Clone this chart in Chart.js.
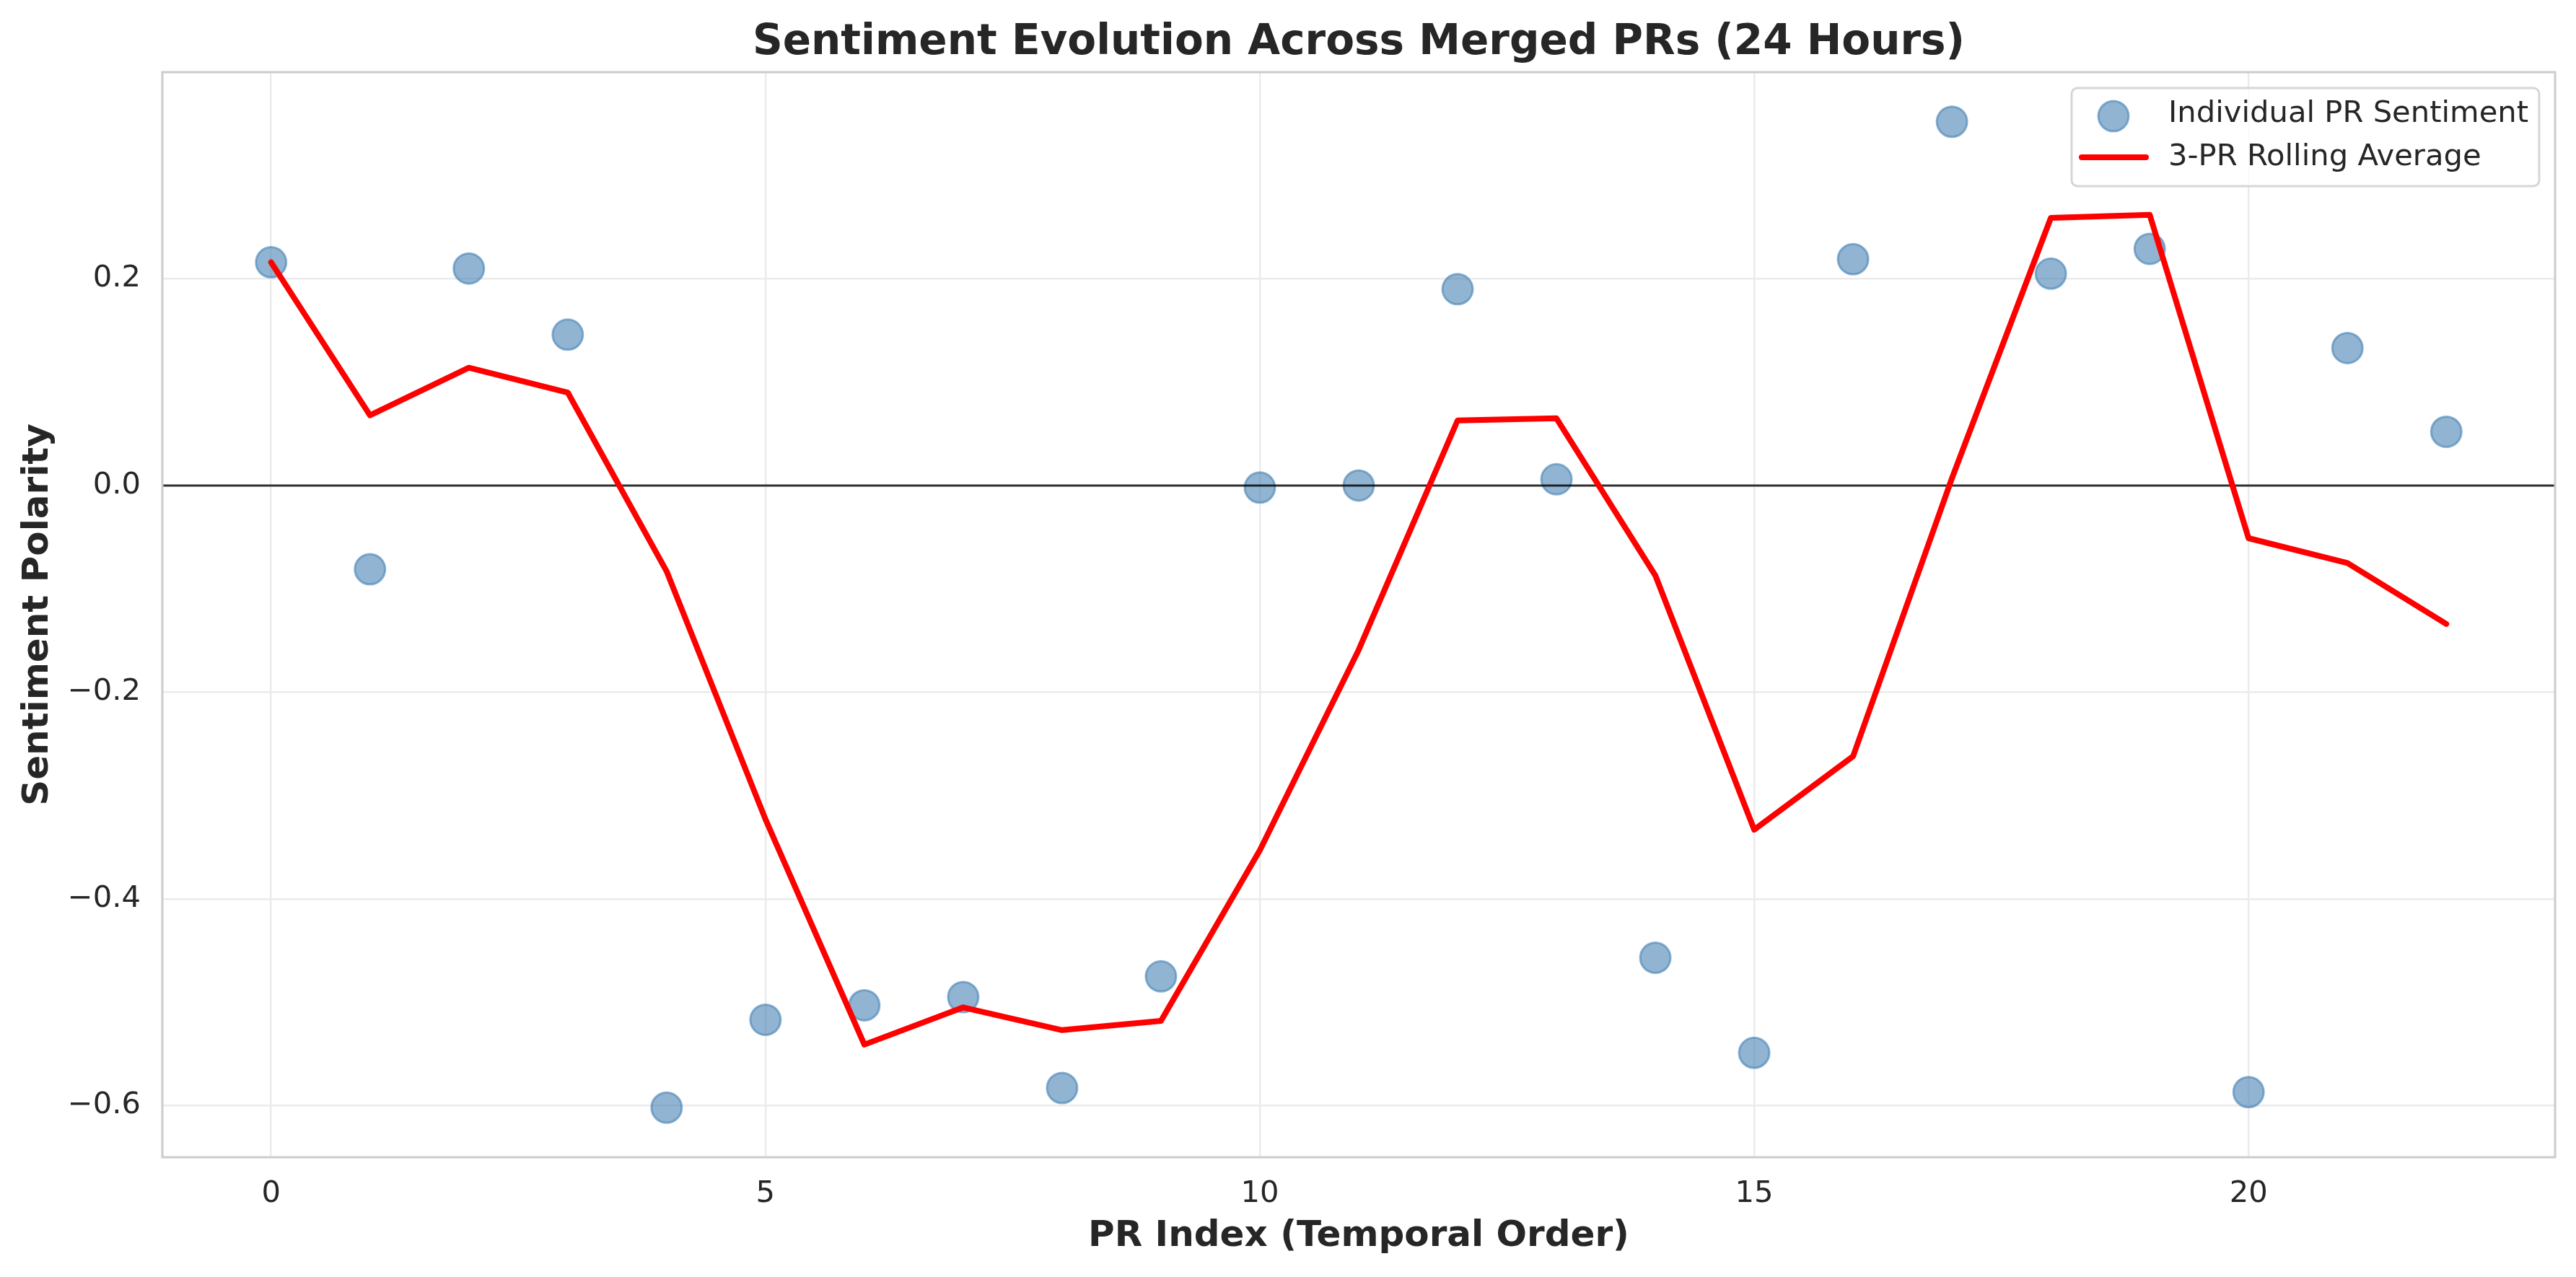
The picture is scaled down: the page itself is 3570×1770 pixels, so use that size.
<!DOCTYPE html>
<html>
<head>
<meta charset="utf-8">
<script src="https://cdn.jsdelivr.net/npm/chart.js@4.4.1/dist/chart.umd.min.js"></script>
<style>
  html, body { margin: 0; padding: 0; background: #fff; }
  canvas { display: block; }
</style>
</head>
<body>
<canvas id="sentimentChart" width="3570" height="1770"></canvas>
<script>
// PR index (temporal order)
const prIndex = [0, 1, 2, 3, 4, 5, 6, 7, 8, 9, 10, 11, 12, 13, 14, 15, 16, 17, 18, 19, 20, 21, 22]

// sentiment polarity of each merged PR
const sentiment = [
  0.216, -0.081, 0.210, 0.146, -0.602, -0.517, -0.503, -0.495, -0.583, -0.475,
  -0.002, 0.000, 0.190, 0.006, -0.457, -0.549, 0.219, 0.352, 0.205, 0.229,
  -0.587, 0.133, 0.052,
]

// 3-PR rolling average
const rolling = [
  0.216, 0.068, 0.114, 0.090, -0.083, -0.323, -0.541, -0.505, -0.527, -0.518,
  -0.353, -0.159, 0.063, 0.065, -0.087, -0.333, -0.262, 0.007, 0.259, 0.262,
  -0.051, -0.075, -0.134,
]

const xTicks = [0, 5, 10, 15, 20]
const yTicks = [-0.6, -0.4, -0.2, 0.0, 0.2]

const titleText = 'Sentiment Evolution Across Merged PRs (24 Hours)'
const seriesNames = ['Individual PR Sentiment', '3-PR Rolling Average']

const FONT = "'DejaVu Sans', 'Liberation Sans', sans-serif"
const TEXT = '#262626'
const POINT_FILL = 'rgba(70, 130, 180, 0.6)'

const fmt = (v) => v.toFixed(1).replace('-', '\u2212')

// title centred over the plot area
const titlePlugin = {
  id: 'plotTitle',
  afterDraw(chart) {
    const { ctx, chartArea } = chart
    ctx.save()
    ctx.font = `bold 58px ${FONT}`
    ctx.fillStyle = TEXT
    ctx.textAlign = 'center'
    ctx.textBaseline = 'alphabetic'
    ctx.fillText(titleText, (chartArea.left + chartArea.right) / 2, 75)
    ctx.restore()
  },
}

// zero line: above the dots, under the red line
const zeroLinePlugin = {
  id: 'zeroLine',
  afterDatasetDraw(chart, args) {
    if (args.index !== 0) return
    const { ctx, chartArea, scales } = chart
    const y = scales.y.getPixelForValue(0)
    ctx.save()
    ctx.strokeStyle = 'rgba(0, 0, 0, 0.8)'
    ctx.lineWidth = 3
    ctx.beginPath()
    ctx.moveTo(chartArea.left, y)
    ctx.lineTo(chartArea.right, y)
    ctx.stroke()
    ctx.restore()
  },
}

// frame + matplotlib-like legend box
const framePlugin = {
  id: 'frameLegend',
  afterDraw(chart) {
    const { ctx, chartArea } = chart
    const { left, right, top, bottom } = chartArea
    ctx.save()
    ctx.strokeStyle = '#cccccc'
    ctx.lineWidth = 3
    ctx.strokeRect(left, top, right - left, bottom - top)

    const bx = right - 670
    const by = top + 22
    const bw = 648
    const bh = 136
    ctx.beginPath()
    ctx.roundRect(bx, by, bw, bh, 8)
    ctx.fillStyle = 'rgba(255, 255, 255, 0.8)'
    ctx.fill()
    ctx.strokeStyle = '#d6d6d6'
    ctx.lineWidth = 3
    ctx.stroke()

    // scatter marker
    ctx.beginPath()
    ctx.arc(bx + 58, by + 39, 21, 0, Math.PI * 2)
    ctx.fillStyle = POINT_FILL
    ctx.fill()
    ctx.strokeStyle = POINT_FILL
    ctx.lineWidth = 3
    ctx.stroke()

    // line sample
    ctx.beginPath()
    ctx.moveTo(bx + 14, by + 96)
    ctx.lineTo(bx + 103, by + 96)
    ctx.strokeStyle = '#ff0000'
    ctx.lineWidth = 8
    ctx.lineCap = 'round'
    ctx.stroke()

    ctx.font = `41.7px ${FONT}`
    ctx.fillStyle = TEXT
    ctx.textAlign = 'left'
    ctx.textBaseline = 'middle'
    ctx.fillText(seriesNames[0], bx + 134, by + 36)
    ctx.fillText(seriesNames[1], bx + 134, by + 96)
    ctx.restore()
  },
}

new Chart('sentimentChart', {
  type: 'scatter',
  data: {
    datasets: [
      {
        label: seriesNames[0],
        data: prIndex.map((x, i) => ({ x: x, y: sentiment[i] })),
        backgroundColor: POINT_FILL,
        borderColor: POINT_FILL,
        borderWidth: 3,
        pointRadius: 21,
        pointHoverRadius: 21,
        order: 2,
      },
      {
        label: seriesNames[1],
        data: prIndex.map((x, i) => ({ x: x, y: rolling[i] })),
        showLine: true,
        borderColor: '#ff0000',
        borderWidth: 8,
        borderJoinStyle: 'round',
        borderCapStyle: 'round',
        pointRadius: 0,
        pointHoverRadius: 0,
        tension: 0,
        fill: false,
        order: 1,
      },
    ],
  },
  options: {
    responsive: false,
    animation: false,
    devicePixelRatio: 1,
    layout: { padding: { top: 100, right: 29, bottom: 0, left: 0 } },
    plugins: {
      legend: { display: false },
      title: { display: false },
      tooltip: { enabled: false },
    },
    scales: {
      x: {
        type: 'linear',
        min: -1.1,
        max: 23.1,
        afterFit: (scale) => { scale.height = 166 },
        afterBuildTicks: (scale) => { scale.ticks = xTicks.map((v) => ({ value: v })) },
        border: { display: false },
        grid: { color: '#ebebeb', lineWidth: 2.5, drawTicks: false },
        ticks: {
          padding: 26,
          color: TEXT,
          font: { family: FONT, size: 41.7 },
          callback: (v) => String(v),
        },
        title: {
          display: true,
          text: 'PR Index (Temporal Order)',
          color: TEXT,
          font: { family: FONT, size: 50, weight: 'bold' },
          padding: { top: 0, bottom: 26 },
        },
      },
      y: {
        min: -0.65,
        max: 0.4,
        afterFit: (scale) => { scale.width = 225 },
        afterBuildTicks: (scale) => { scale.ticks = yTicks.map((v) => ({ value: v })) },
        border: { display: false },
        grid: { color: '#ebebeb', lineWidth: 2.5, drawTicks: false },
        ticks: {
          padding: 30,
          color: TEXT,
          font: { family: FONT, size: 41.7 },
          callback: (v) => fmt(v),
        },
        title: {
          display: true,
          text: 'Sentiment Polarity',
          color: TEXT,
          font: { family: FONT, size: 50, weight: 'bold' },
          padding: { top: 23, bottom: 0 },
        },
      },
    },
  },
  plugins: [zeroLinePlugin, titlePlugin, framePlugin],
})
</script>
</body>
</html>
